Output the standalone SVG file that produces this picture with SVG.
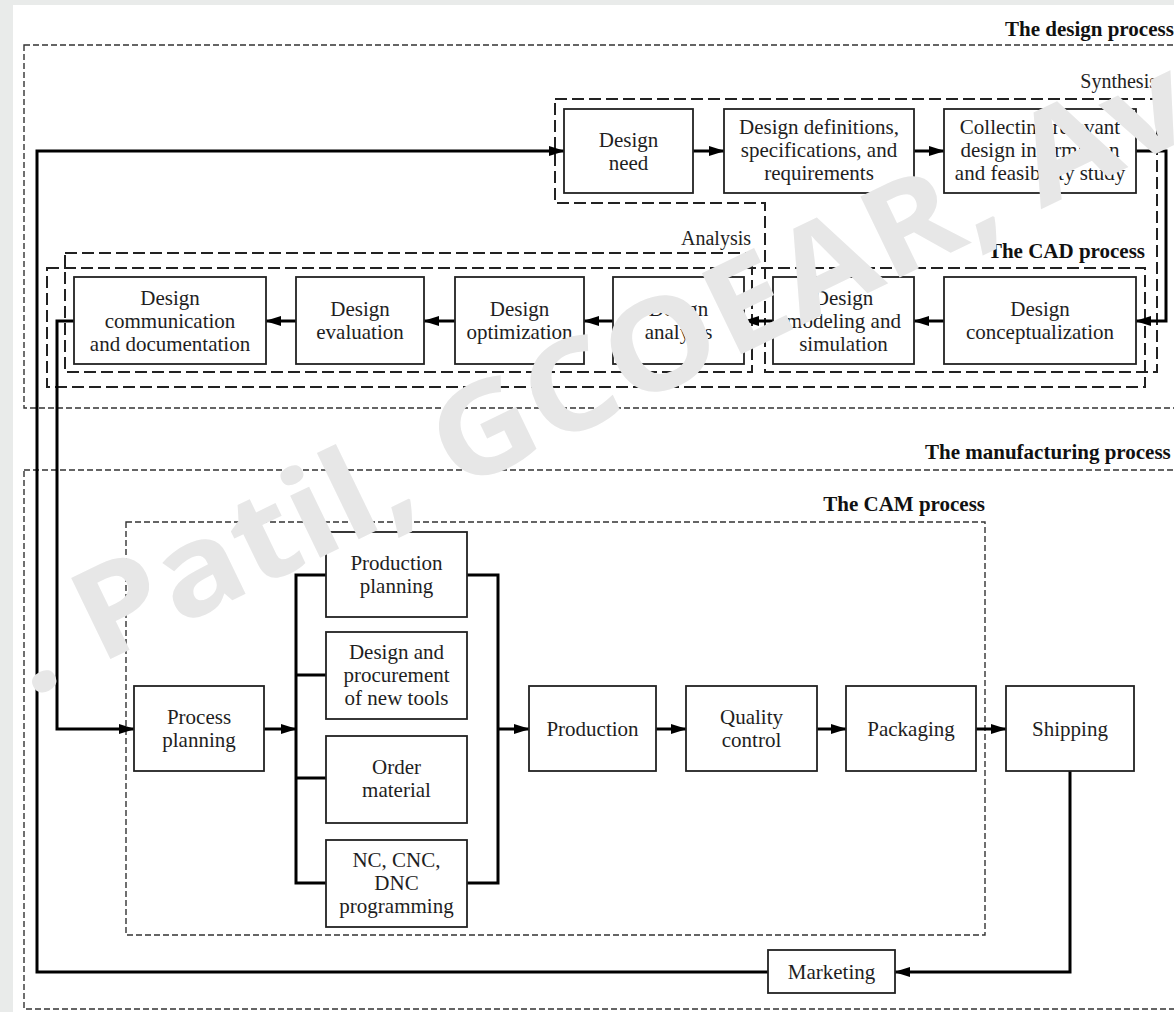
<svg xmlns="http://www.w3.org/2000/svg" width="1174" height="1012" viewBox="0 0 1174 1012">
<defs>
<style>
.bx{fill:#fff;stroke:#222;stroke-width:1.8}
.t{font-family:"Liberation Serif","Times New Roman",serif;font-size:21px;fill:#1e1e1e;text-anchor:middle}
.lb{font-family:"Liberation Serif","Times New Roman",serif;font-size:21px;font-weight:bold;fill:#111}
.lr{font-family:"Liberation Serif","Times New Roman",serif;font-size:20px;fill:#222;text-anchor:end}
.od{fill:none;stroke:#333;stroke-width:1.4;stroke-dasharray:6 3}
.ld{fill:none;stroke:#222;stroke-width:2;stroke-dasharray:12 5}
.c{fill:none;stroke:#000;stroke-width:3}
.a{marker-end:url(#ah)}
.wm{font-family:"Open Sans","DejaVu Sans",sans-serif;font-weight:bold;font-size:126px;fill:#e7e7e7}
</style>
<marker id="ah" markerUnits="userSpaceOnUse" markerWidth="16" markerHeight="12" refX="15" refY="6" orient="auto"><path d="M0,1 L16,6 L0,11 z" fill="#000"/></marker>
</defs>
<rect x="0" y="0" width="1174" height="1012" fill="#e9ebea"/>
<rect x="13" y="5" width="1161" height="1007" fill="#fff"/>

<g id="frames">
<rect class="od" x="24" y="45" width="1170" height="363"/>
<text class="lb" x="1005" y="36">The design process</text>
<path class="ld" d="M555,99 H1157 V372 H765 V203 H555 Z"/>
<text class="lr" x="1157" y="88">Synthesis</text>
<rect class="ld" x="65" y="253" width="687" height="119"/>
<text class="lr" x="751" y="245">Analysis</text>
<rect class="ld" x="47" y="268" width="1098" height="119"/>
<text class="lb" x="1145" y="258" text-anchor="end">The CAD process</text>
<rect class="od" x="24" y="470" width="1170" height="539"/>
<text class="lb" x="925" y="459">The manufacturing process</text>
<rect class="od" x="126" y="522" width="859" height="413"/>
<text class="lb" x="985" y="511" text-anchor="end">The CAM process</text>
</g>

<g id="connectors">
<path class="c a" d="M1070,771 V972 H895"/>
<path class="c a" d="M768,972 H37 V151 H564"/>
<path class="c a" d="M693,151 H724"/>
<path class="c a" d="M914,151 H944"/>
<path class="c a" d="M1136,151 H1166 V321 H1136"/>
<path class="c a" d="M944,321 H914"/>
<path class="c a" d="M773,321 H744"/>
<path class="c a" d="M613,321 H584"/>
<path class="c a" d="M455,321 H424"/>
<path class="c a" d="M296,321 H266"/>
<path class="c a" d="M74,321 H57 V729 H134"/>
<path class="c a" d="M264,729 H296"/>
<path class="c" d="M326,575 H296 V883 H326 M296,675 H326 M296,778 H326"/>
<path class="c" d="M467,575 H498 V883 H467"/>
<path class="c a" d="M498,729 H529"/>
<path class="c a" d="M656,729 H686"/>
<path class="c a" d="M817,729 H846"/>
<path class="c a" d="M976,729 H1006"/>
</g>

<g id="design-need"><rect class="bx" x="564" y="109" width="129" height="84"/><text class="t" x="628.5" y="146.5">Design</text><text class="t" x="628.5" y="169.5">need</text></g>
<g id="design-definitions"><rect class="bx" x="724" y="109" width="190" height="84"/><text class="t" x="819" y="134">Design definitions,</text><text class="t" x="819" y="157">specifications, and</text><text class="t" x="819" y="180">requirements</text></g>
<g id="collecting"><rect class="bx" x="944" y="109" width="192" height="84"/><text class="t" x="1040" y="134">Collecting relevant</text><text class="t" x="1040" y="157">design information</text><text class="t" x="1040" y="180">and feasibility study</text></g>
<g id="design-conceptualization"><rect class="bx" x="944" y="277" width="192" height="87"/><text class="t" x="1040" y="316">Design</text><text class="t" x="1040" y="339">conceptualization</text></g>
<g id="design-modeling"><rect class="bx" x="773" y="277" width="141" height="87"/><text class="t" x="843.5" y="304.5">Design</text><text class="t" x="843.5" y="327.5">modeling and</text><text class="t" x="843.5" y="350.5">simulation</text></g>
<g id="design-analysis"><rect class="bx" x="613" y="277" width="131" height="87"/><text class="t" x="678.5" y="316">Design</text><text class="t" x="678.5" y="339">analysis</text></g>
<g id="design-optimization"><rect class="bx" x="455" y="277" width="129" height="87"/><text class="t" x="519.5" y="316">Design</text><text class="t" x="519.5" y="339">optimization</text></g>
<g id="design-evaluation"><rect class="bx" x="296" y="277" width="128" height="87"/><text class="t" x="360" y="316">Design</text><text class="t" x="360" y="339">evaluation</text></g>
<g id="design-communication"><rect class="bx" x="74" y="277" width="192" height="87"/><text class="t" x="170" y="304.5">Design</text><text class="t" x="170" y="327.5">communication</text><text class="t" x="170" y="350.5">and documentation</text></g>

<g id="process-planning"><rect class="bx" x="134" y="686" width="130" height="85"/><text class="t" x="199" y="724">Process</text><text class="t" x="199" y="747">planning</text></g>
<g id="production-planning"><rect class="bx" x="326" y="532" width="141" height="85"/><text class="t" x="396.5" y="570">Production</text><text class="t" x="396.5" y="593">planning</text></g>
<g id="design-procurement"><rect class="bx" x="326" y="632" width="141" height="87"/><text class="t" x="396.5" y="659">Design and</text><text class="t" x="396.5" y="682">procurement</text><text class="t" x="396.5" y="705">of new tools</text></g>
<g id="order-material"><rect class="bx" x="326" y="736" width="141" height="87"/><text class="t" x="396.5" y="774">Order</text><text class="t" x="396.5" y="797">material</text></g>
<g id="nc-programming"><rect class="bx" x="326" y="840" width="141" height="87"/><text class="t" x="396.5" y="867">NC, CNC,</text><text class="t" x="396.5" y="890">DNC</text><text class="t" x="396.5" y="913">programming</text></g>
<g id="production"><rect class="bx" x="529" y="686" width="127" height="85"/><text class="t" x="592.5" y="735.5">Production</text></g>
<g id="quality-control"><rect class="bx" x="686" y="686" width="131" height="85"/><text class="t" x="751.5" y="724">Quality</text><text class="t" x="751.5" y="747">control</text></g>
<g id="packaging"><rect class="bx" x="846" y="686" width="130" height="85"/><text class="t" x="911" y="735.5">Packaging</text></g>
<g id="shipping"><rect class="bx" x="1006" y="686" width="128" height="85"/><text class="t" x="1070" y="735.5">Shipping</text></g>
<g id="marketing"><rect class="bx" x="768" y="950" width="127" height="43"/><text class="t" x="831.5" y="978.5">Marketing</text></g>

<text class="wm" transform="translate(30,698) rotate(-25.8)" textLength="1300" lengthAdjust="spacingAndGlyphs">. Patil, GCOEAR, Av</text>
</svg>
